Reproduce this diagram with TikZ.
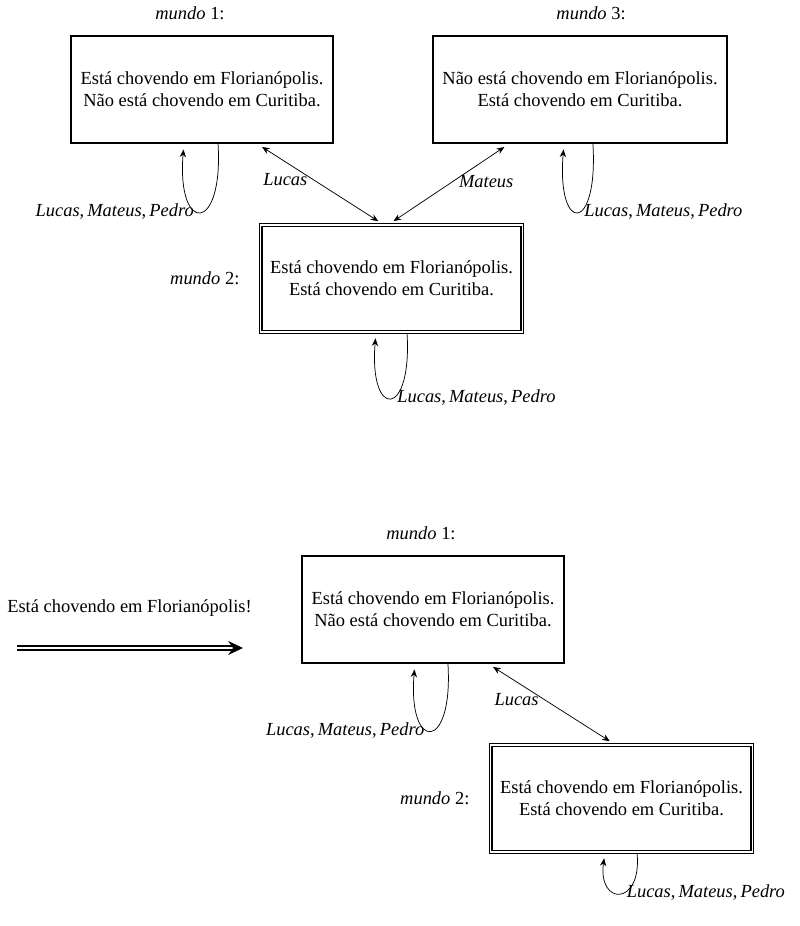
\documentclass[tikz,border=0pt]{standalone}
\usepackage{fontspec}
\setmainfont{Liberation Serif}
\usetikzlibrary{arrows,arrows.meta}
\usetikzlibrary{positioning}
\newcommand{\todos}{\textit{Lucas},\thinspace\textit{Mateus},\thinspace\textit{Pedro}}
\newcommand{\mundo}[1]{\textit{mundo} #1:}

\begin{document}
\begin{tikzpicture}[%
        x=0.542pt, y=0.542pt,
        mundobox/.style={rectangle, draw, line width=1pt, align=center, inner xsep=5pt, minimum height=58pt},
        atual/.style={mundobox, double, line width=0.85pt, double distance=0.7pt},
        rotulo/.style={inner sep=0pt},
        dupla/.style={double, line width=1.1pt, double distance=0.9pt, shorten >=0pt, -{Stealth[length=8pt,width=7.5pt]}},
        shorten >=3pt, >={Stealth[length=4.2pt,width=3.4pt]}
      ]
      \useasboundingbox (0,0) rectangle (799,-926);
      \node [mundobox] (w1) at (202,-89.5) {Está chovendo em Florianópolis.\\Não está chovendo em Curitiba.};
      \node [mundobox] (w3) at (580,-89.5) {Não está chovendo em Florianópolis.\\Está chovendo em Curitiba.};
      \node [atual] (w2) at (391.5,-278.5) {Está chovendo em Florianópolis.\\Está chovendo em Curitiba.};
      \node [rotulo, above=8pt of w1, xshift=-6.5pt] (m1) {\mundo{1}};
      \node [rotulo, above=8pt of w3, xshift=6pt] (m3) {\mundo{3}};
      \node [rotulo, left=11pt of w2] (m2) {\mundo{2}};
      \path [draw] ([xshift=30pt]w1.south) edge[<->, shorten <=3pt] node[pos=0.45, left] {\textit{Lucas}} ([xshift=-4.6pt]w2.north)
      ([xshift=-1.4pt]w2.north) edge[<->, shorten <=3pt] node[pos=0.53, right] {\textit{Mateus}} ([xshift=-38.5pt]w3.south);
      \draw [->] ([xshift=8.7pt]w1.south) .. controls +(3pt,-49pt) and +(-4pt,-49pt) .. node[left] {\todos} ([xshift=-9.8pt]w1.south);
      \draw [->] ([xshift=7pt]w3.south) .. controls +(3pt,-49pt) and +(-4pt,-49pt) .. node[right] {\todos} ([xshift=-8.7pt]w3.south);
      \draw [->] ([xshift=8.4pt]w2.south) .. controls +(3pt,-47pt) and +(-4pt,-47pt) .. node[right] {\todos} ([xshift=-8.4pt]w2.south);

      \node [mundobox] (v1) at (433,-609.5) {Está chovendo em Florianópolis.\\Não está chovendo em Curitiba.};
      \node [atual] (v2) at (621.5,-798.5) {Está chovendo em Florianópolis.\\Está chovendo em Curitiba.};
      \node [rotulo, above=8pt of v1, xshift=-6.5pt] (n1) {\mundo{1}};
      \node [rotulo, left=11pt of v2] (n2) {\mundo{2}};
      \node (an) at (129.5,-608) {Está chovendo em Florianópolis!};
      \coordinate (a0) at (17,-648);
      \coordinate (a1) at (243,-648);
      \draw [dupla] (a0) -- (a1);
      \path [draw] ([xshift=30pt]v1.south) edge[<->, shorten <=3pt] node[pos=0.45, left] {\textit{Lucas}} ([xshift=-3.8pt]v2.north);
      \draw [->] ([xshift=8.1pt]v1.south) .. controls +(3pt,-48pt) and +(-4pt,-48pt) .. node[left] {\todos} ([xshift=-9.8pt]v1.south);
      \draw [->] ([xshift=8.4pt]v2.south) .. controls +(3pt,-29pt) and +(-4pt,-29pt) .. node[right] {\todos} ([xshift=-9pt]v2.south);
\end{tikzpicture}
\end{document}
